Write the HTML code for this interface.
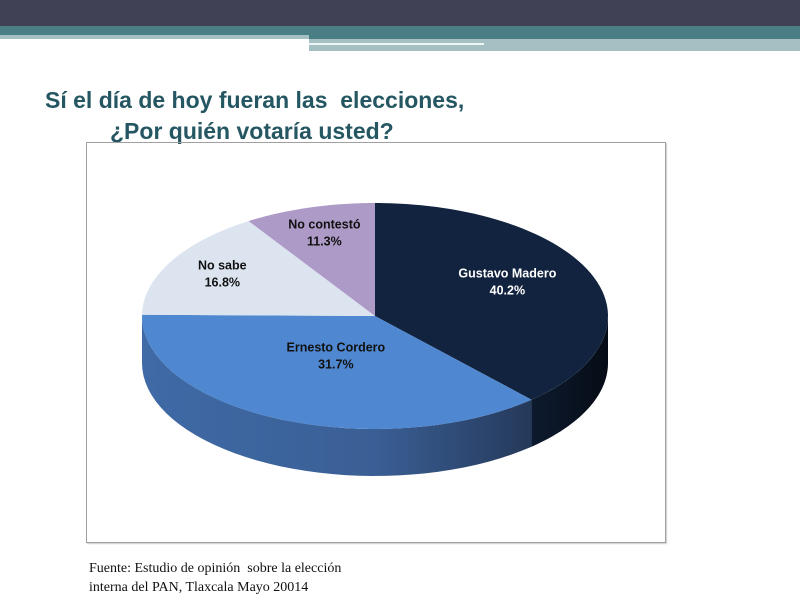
<!DOCTYPE html>
<html><head><meta charset="utf-8"><style>
body{margin:0;width:800px;height:600px;background:#fff;overflow:hidden;position:relative;font-family:"Liberation Sans",sans-serif}
.abs{position:absolute}
</style></head><body>
<div class="abs" style="left:0;top:0;width:800px;height:26px;background:#414155"></div>
<div class="abs" style="left:0;top:26px;width:800px;height:9px;background:#4a7e85"></div>
<div class="abs" style="left:0;top:35px;width:309px;height:4px;background:#a6bfc2"></div>
<div class="abs" style="left:309px;top:35px;width:491px;height:7px;background:#4a7e85"></div>
<div class="abs" style="left:309px;top:39px;width:491px;height:12px;background:#a6bfc2"></div>
<div class="abs" style="left:309px;top:43px;width:175px;height:2px;background:#eef5f5"></div>
<div class="abs" style="left:421px;top:51px;width:92px;height:2px;background:#fff"></div>
<div class="abs" style="left:45px;top:85px;font-size:23px;font-weight:bold;color:#255763;line-height:31px;white-space:nowrap">Sí el día de hoy fueran las&nbsp; elecciones,<br><span style="padding-left:65px">¿Por quién votaría usted?</span></div>
<div class="abs" style="left:86px;top:142px;width:578px;height:399px;border:1px solid #a0a0a0;box-shadow:1px 1px 1px #ccc"></div>
<svg class="abs" style="left:0;top:0" width="800" height="600" id="pie">
<defs>
<linearGradient id="gE" x1="0" x2="1" y1="0" y2="0"><stop offset="0" stop-color="#3f6aa6"/><stop offset="0.6" stop-color="#3a5f95"/><stop offset="1" stop-color="#25395a"/></linearGradient>
<linearGradient id="gG" x1="0" x2="1"><stop offset="0" stop-color="#0d1a2e"/><stop offset="1" stop-color="#060c16"/></linearGradient>
</defs>
</svg>
<div class="abs" style="left:89px;top:559px;font-family:'Liberation Serif',serif;font-size:14px;line-height:19px;color:#111">Fuente: Estudio de opinión&nbsp; sobre la elección<br>interna del PAN, Tlaxcala Mayo 20014</div>
<script>
const categories=["Gustavo Madero","Ernesto Cordero","No sabe","No contestó"];
const values=[40.2,31.7,16.8,11.3];
const labels=["40.2%","31.7%","16.8%","11.3%"];
const colors=["#11233f","#4f88d0","#dce5ef","#ad9ac6"];
const sideColors=["url(#gG)","url(#gE)","#b8c4d2","#8e7ea8"];
const labelColors=["#fff","#111","#111","#111"];
const labelRadius=[0.65,0.38,0.76,0.78];
const cx=375,cy=316,rx=233,ry=113,depth=47;
const svg=document.getElementById('pie');const NS="http://www.w3.org/2000/svg";
const persp=12*Math.PI/180;
function proj(t){return t-persp*Math.sin(t);}
function pt(t,dy){const f=proj(t);return [cx+rx*Math.sin(f),cy-ry*Math.cos(f)+(dy||0)];}
const total=values.reduce((a,b)=>a+b,0);
let acc=0;const arcs=[];
values.forEach(v=>{const a0=acc/total*2*Math.PI;acc+=v;arcs.push([a0,acc/total*2*Math.PI]);});
arcs.forEach((a,i)=>{
 const s=Math.max(proj(a[0]),Math.PI/2),e=Math.min(proj(a[1]),3*Math.PI/2);
 if(e<=s)return;
 let d="";const n=40;
 for(let k=0;k<=n;k++){const t=s+(e-s)*k/n;d+=(k?"L":"M")+(cx+rx*Math.sin(t))+","+(cy-ry*Math.cos(t));}
 for(let k=n;k>=0;k--){const t=s+(e-s)*k/n;d+="L"+(cx+rx*Math.sin(t))+","+(cy-ry*Math.cos(t)+depth);}
 const el=document.createElementNS(NS,'path');el.setAttribute('d',d+"Z");el.setAttribute('fill',sideColors[i]);
 
 
 svg.appendChild(el);
});
arcs.forEach((a,i)=>{
 let d="M"+cx+","+cy;const n=60;
 for(let k=0;k<=n;k++){const t=a[0]+(a[1]-a[0])*k/n;const p=pt(t);d+="L"+p[0]+","+p[1];}
 const el=document.createElementNS(NS,'path');el.setAttribute('d',d+"Z");el.setAttribute('fill',colors[i]);
 
 
 svg.appendChild(el);
 const m=proj((a[0]+a[1])/2);const f=labelRadius[i];
 const lx=cx+rx*f*Math.sin(m),ly=cy-ry*f*Math.cos(m);
 [categories[i],labels[i]].forEach((txt,j)=>{
  const t=document.createElementNS(NS,'text');t.setAttribute('x',lx);t.setAttribute('y',ly-3+j*17);
  t.setAttribute('text-anchor','middle');t.setAttribute('font-size','12.5');t.setAttribute('font-weight','bold');
  t.setAttribute('fill',labelColors[i]);t.setAttribute('font-family','Liberation Sans, sans-serif');t.textContent=txt;
  
  
  svg.appendChild(t);
 });
});
</script>
</body></html>
